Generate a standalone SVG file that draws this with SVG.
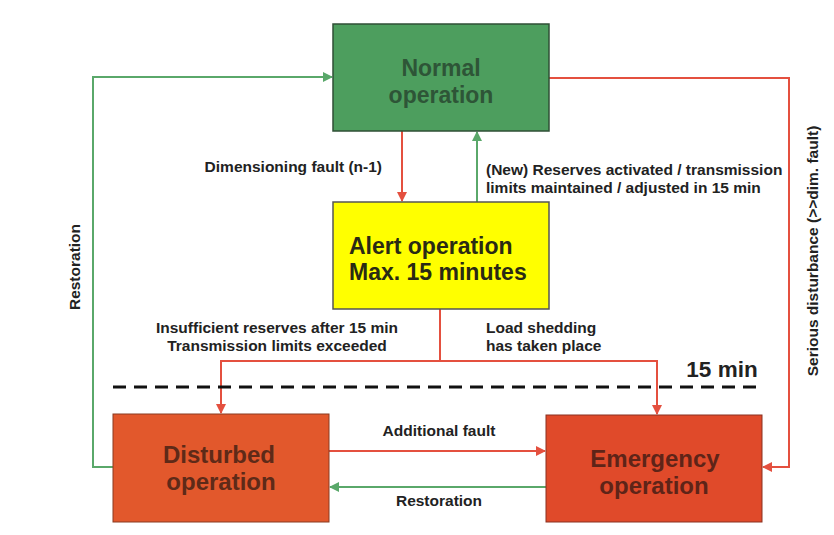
<svg xmlns="http://www.w3.org/2000/svg" width="834" height="535" viewBox="0 0 834 535">
<defs>
<style>
.lbl{font-family:"Liberation Sans",Arial,sans-serif;font-weight:bold;font-size:15.5px;fill:#222}
.big{font-family:"Liberation Sans",Arial,sans-serif;font-weight:bold;font-size:23px;text-anchor:middle}
.r{fill:none;stroke:#e4503f;stroke-width:2}
.g{fill:none;stroke:#5aa86a;stroke-width:2}
</style>
<marker id="ar" viewBox="0 0 10 10" refX="9" refY="5" markerWidth="5" markerHeight="5" orient="auto"><path d="M0,0 L10,5 L0,10 z" fill="#e4503f"/></marker>
<marker id="ag" viewBox="0 0 10 10" refX="9" refY="5" markerWidth="5" markerHeight="5" orient="auto"><path d="M0,0 L10,5 L0,10 z" fill="#5aa86a"/></marker>
</defs>
<rect width="834" height="535" fill="#fff"/>
<g id="connectors">
<path class="r" d="M402,131 V201" marker-end="url(#ar)"/>
<path class="g" d="M477,202 V132" marker-end="url(#ag)"/>
<path class="r" d="M549,78 H789 V467 H763" marker-end="url(#ar)"/>
<path class="g" d="M113,467 H93 V77 H332" marker-end="url(#ag)"/>
<path class="r" d="M440,309 V361 H221 V413" marker-end="url(#ar)"/>
<path class="r" d="M440,361 H657 V414" marker-end="url(#ar)"/>
<path class="r" d="M329,451 H545" marker-end="url(#ar)"/>
<path class="g" d="M546,487 H330" marker-end="url(#ag)"/>
<line x1="113" y1="387" x2="764" y2="387" stroke="#111" stroke-width="3" stroke-dasharray="13,8"/>
</g>
<g id="normal">
<rect x="333" y="24" width="216" height="107" fill="#4d9e5e" stroke="#2f4f36" stroke-width="1.5"/>
<text class="big" x="441" y="76" fill="#2e5537">Normal</text>
<text class="big" x="441" y="103" fill="#2e5537">operation</text>
</g>
<g id="alert">
<rect x="333" y="202" width="216" height="107" fill="#ffff00" stroke="#555" stroke-width="1.5"/>
<text class="big" x="349" y="254" fill="#2a2a14" style="text-anchor:start">Alert operation</text>
<text class="big" x="349" y="280" fill="#2a2a14" style="text-anchor:start">Max. 15 minutes</text>
</g>
<g id="disturbed">
<rect x="113" y="414" width="216" height="108" fill="#e2582c" stroke="#8a3a20" stroke-width="1"/>
<text class="big" x="219" y="463" fill="#5e2a18" style="font-size:24px">Disturbed</text>
<text class="big" x="221" y="490" fill="#5e2a18" style="font-size:24px">operation</text>
</g>
<g id="emergency">
<rect x="546" y="415" width="216" height="107" fill="#e04a2a" stroke="#8a3020" stroke-width="1"/>
<text class="big" x="655" y="467" fill="#5e2418" style="font-size:24px">Emergency</text>
<text class="big" x="654" y="494" fill="#5e2418" style="font-size:24px">operation</text>
</g>
<g id="labels">
<text class="lbl" x="382" y="172" text-anchor="end">Dimensioning fault (n-1)</text>
<text class="lbl" x="486" y="175">(New) Reserves activated / transmission</text>
<text class="lbl" x="486" y="193">limits maintained / adjusted in 15 min</text>
<text class="lbl" x="277" y="333" text-anchor="middle">Insufficient reserves after 15 min</text>
<text class="lbl" x="277" y="351" text-anchor="middle">Transmission limits exceeded</text>
<text class="lbl" x="486" y="333">Load shedding</text>
<text class="lbl" x="486" y="351">has taken place</text>
<text x="722" y="377" text-anchor="middle" style="font-family:'Liberation Sans',Arial,sans-serif;font-weight:bold;font-size:22.5px;fill:#222">15 min</text>
<text class="lbl" x="439" y="436" text-anchor="middle">Additional fault</text>
<text class="lbl" x="439" y="506" text-anchor="middle">Restoration</text>
<text class="lbl" transform="translate(80,267) rotate(-90)" text-anchor="middle">Restoration</text>
<text class="lbl" transform="translate(818,251) rotate(-90)" text-anchor="middle">Serious disturbance (&gt;&gt;dim. fault)</text>
</g>
</svg>
